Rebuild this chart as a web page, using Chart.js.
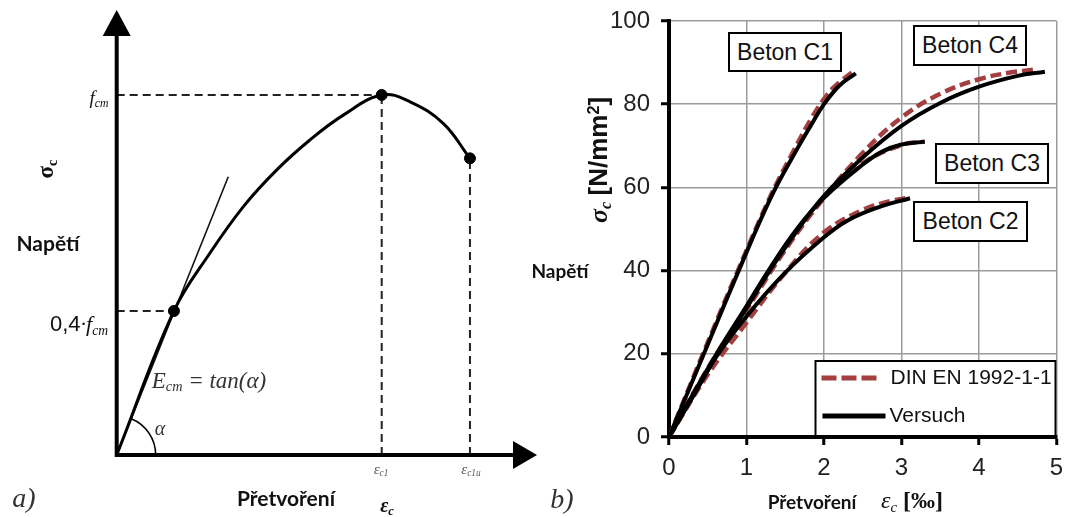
<!DOCTYPE html>
<html>
<head>
<meta charset="utf-8">
<script src="https://cdn.jsdelivr.net/npm/chart.js@4.4.0/dist/chart.umd.min.js"></script>
<style>
  html, body { margin: 0; padding: 0; background: #fff; }
  #wrap { position: relative; width: 1065px; height: 517px; overflow: hidden; }
  canvas { position: absolute; top: 0; }
  #leftChart { left: 0; }
  #rightChart { left: 530px; }
  .lbl { position: absolute; transform: translate(-50%, -50%); white-space: nowrap; line-height: 1; color: #111; }
  .cal { font-family: Lato, sans-serif; font-weight: bold; }
  .tim { font-family: "Liberation Serif", serif; font-style: italic; }
  .ari { font-family: "Liberation Sans", Arial, sans-serif; }
  .rot { transform: translate(-50%, -50%) rotate(-90deg); }
  sub { font-size: 0.62em; vertical-align: -0.28em; line-height: 0; }
  sup { font-size: 0.62em; vertical-align: 0.45em; line-height: 0; }
  .box { position: absolute; border: 2px solid #000; background: #fff; box-sizing: border-box;
         font-family: "Liberation Sans", Arial, sans-serif; font-size: 23px; color: #111;
         display: flex; align-items: center; justify-content: center; }
</style>
</head>
<body>
<div id="wrap">
  <canvas id="leftChart" width="545" height="517"></canvas>
  <canvas id="rightChart" width="535" height="517"></canvas>

  <!-- a) labels -->
  <div class="lbl cal" style="left:48px;top:242px;font-size:21px">Napětí</div>
  <div class="lbl cal" style="left:286px;top:497px;font-size:21px">Přetvoření</div>
  <div class="lbl tim" style="left:24px;top:498px;font-size:28px;color:#333">a)</div>
  <div class="lbl rot" style="left:46px;top:169px;font:bold 23px 'Liberation Serif',serif">σ<sub>c</sub></div>
  <div class="lbl tim" style="left:99px;top:97px;font-size:19px">f<sub>cm</sub></div>
  <div class="lbl" style="left:79px;top:324px;font-size:22px"><span class="ari">0,4</span><span class="tim">·f<sub>cm</sub></span></div>
  <div class="lbl tim" style="left:209px;top:380px;font-size:23px;color:#333">E<sub>cm</sub> = tan(α)</div>
  <div class="lbl tim" style="left:160px;top:428px;font-size:20px;color:#333">α</div>
  <div class="lbl tim" style="left:381px;top:469px;font-size:15px;color:#555">ε<sub>c1</sub></div>
  <div class="lbl tim" style="left:471px;top:469px;font-size:15px;color:#555">ε<sub>c1u</sub></div>
  <div class="lbl" style="left:387px;top:505px;font:bold italic 20px 'Liberation Serif',serif">ε<sub>c</sub></div>

  <!-- b) labels -->
  <div class="lbl cal" style="left:560px;top:270px;font-size:19px">Napětí</div>
  <div class="lbl tim" style="left:562px;top:499px;font-size:28px;color:#333">b)</div>
  <div class="lbl cal" style="left:812px;top:501px;font-size:19px">Přetvoření</div>
  <div class="lbl" style="left:912px;top:500px;font-size:24px"><span class="tim">ε<sub>c</sub></span> <b style="font-family:'Liberation Serif',serif">[‰]</b></div>
  <div class="lbl rot" style="left:598px;top:160px;font-size:26px"><span class="tim" style="font-weight:bold">σ<sub>c</sub></span> <b class="ari">[N/mm<sup>2</sup>]</b></div>

  <div class="box" style="left:728px;top:32px;width:114px;height:40px">Beton C1</div>
  <div class="box" style="left:913px;top:25px;width:114px;height:41px">Beton C4</div>
  <div class="box" style="left:935px;top:143px;width:114px;height:41px">Beton C3</div>
  <div class="box" style="left:913px;top:201px;width:115px;height:41px">Beton C2</div>
</div>

<script>
// ---- a) schematic: strain in units of eps_c1, stress in units of f_cm
const schemeX = [0, 0.216, 0.352, 0.478, 0.604, 0.729, 0.855, 1, 1.107, 1.232, 1.333];
const schemeY = [0, 0.4, 0.561, 0.690, 0.792, 0.875, 0.944, 1, 0.981, 0.921, 0.824];
const markX = [0.216, 1, 1.333];
const markY = [0.4, 1, 0.824];
const tangentX = [0, 0.421];
const tangentY = [0, 0.773];
const axisMaxX = 1.586;
const axisMaxY = 1.236;

// ---- b) stress-strain curves, strain [‰], stress [N/mm²]
const seriesLabels = ['DIN EN 1992-1-1', 'Versuch'];
const xTicks = [0, 1, 2, 3, 4, 5];
const yTicks = [0, 20, 40, 60, 80, 100];

const c1ExpX = [0, 0.45, 0.9, 1.3, 1.6, 1.85, 2.0, 2.2, 2.41];
const c1ExpY = [0, 20, 40, 57, 67.5, 75.5, 80, 84.5, 87.4];
const c1DinX = [0, 0.45, 0.9, 1.3, 1.6, 1.85, 2.05, 2.2, 2.36];
const c1DinY = [0, 20.5, 40.5, 57.5, 68.5, 77, 82.5, 85.3, 87.6];

const c2ExpX = [0, 0.3, 0.6, 1.0, 1.5, 2.0, 2.3, 2.7, 3.11];
const c2ExpY = [0, 9.5, 19, 29, 39.5, 48, 52, 55.2, 57.4];
const c2DinX = [0, 0.5, 1.0, 1.5, 2.0, 2.5, 2.85, 3.05];
const c2DinY = [0, 15, 27.5, 39.5, 49.2, 54.6, 56.7, 57.4];

const c3ExpX = [0, 0.3, 0.63, 1.0, 1.3, 1.65, 2.0, 2.5, 2.75, 3.0, 3.3];
const c3ExpY = [0, 10, 20.5, 31.5, 40.5, 50, 57.5, 65.5, 68.6, 70.3, 71];
const c3DinX = [0, 0.5, 1.0, 1.5, 2.0, 2.5, 3.0, 3.3];
const c3DinY = [0, 16.5, 31, 45.5, 57.5, 65.8, 70.2, 71];

const c4ExpX = [0, 0.3, 0.63, 1.0, 1.3, 1.65, 2.0, 2.5, 3.0, 3.5, 4.0, 4.5, 4.85];
const c4ExpY = [0, 9.5, 20, 31, 40, 49.5, 58, 67.2, 74.8, 80.3, 84.2, 86.8, 87.8];
const c4DinX = [0, 0.5, 1.0, 1.5, 2.0, 2.5, 3.0, 3.5, 4.0, 4.4, 4.7];
const c4DinY = [0, 16, 30.5, 45, 57.5, 68.3, 76.8, 82.5, 86, 87.6, 88.3];

const dinColor = '#a33f3f';

const pts = (xs, ys) => xs.map((x, i) => ({ x: x, y: ys[i] }));

// ---------- left: schematic ----------
const guide = (data) => ({
  data: data, showLine: true, borderColor: '#222', borderWidth: 2,
  borderDash: [8, 5], pointRadius: 0, clip: false
});

const schemeDecor = {
  id: 'schemeDecor',
  afterDatasetsDraw(chart) {
    const { ctx, scales: { x, y } } = chart;
    const ox = x.getPixelForValue(0), oy = y.getPixelForValue(0);
    const tipX = x.getPixelForValue(axisMaxX), tipY = y.getPixelForValue(axisMaxY);
    ctx.save();
    // axes
    ctx.strokeStyle = '#000';
    ctx.lineWidth = 4;
    ctx.beginPath();
    ctx.moveTo(ox, tipY + 20); ctx.lineTo(ox, oy); ctx.lineTo(tipX - 20, oy);
    ctx.stroke();
    // arrow heads
    ctx.fillStyle = '#000';
    ctx.beginPath();
    ctx.moveTo(ox, tipY); ctx.lineTo(ox - 14, tipY + 26); ctx.lineTo(ox + 14, tipY + 26);
    ctx.closePath(); ctx.fill();
    ctx.beginPath();
    ctx.moveTo(tipX, oy); ctx.lineTo(tipX - 24, oy - 14); ctx.lineTo(tipX - 24, oy + 14);
    ctx.closePath(); ctx.fill();
    // angle alpha
    const ang = Math.atan2(y.getPixelForValue(tangentY[1]) - oy, x.getPixelForValue(tangentX[1]) - ox);
    ctx.lineWidth = 1.6;
    ctx.beginPath();
    ctx.arc(ox, oy, 39, ang, 0);
    ctx.stroke();
    ctx.restore();
  }
};

new Chart(document.getElementById('leftChart'), {
  type: 'scatter',
  data: {
    datasets: [
      { data: pts(markX, markY), pointRadius: 5.5, pointBackgroundColor: '#000', pointBorderColor: '#000', showLine: false, clip: false },
      { data: pts(schemeX, schemeY), showLine: true, borderColor: '#000', borderWidth: 3,
        tension: 0.4, pointRadius: 0, clip: false },
      { data: pts(tangentX, tangentY), showLine: true, borderColor: '#111', borderWidth: 1.6, pointRadius: 0, clip: false },
      guide([{ x: 0, y: schemeY[7] }, { x: schemeX[7], y: schemeY[7] }]),
      guide([{ x: schemeX[7], y: 0 }, { x: schemeX[7], y: schemeY[7] }]),
      guide([{ x: 0, y: markY[0] }, { x: markX[0], y: markY[0] }]),
      guide([{ x: markX[2], y: 0 }, { x: markX[2], y: markY[2] }])
    ]
  },
  options: {
    responsive: false,
    animation: false,
    layout: { padding: { left: 116.7, right: 8, top: 10, bottom: 62 }, autoPadding: false },
    plugins: { legend: { display: false }, tooltip: { enabled: false } },
    scales: {
      x: { type: 'linear', display: false, min: 0, max: axisMaxX },
      y: { type: 'linear', display: false, min: 0, max: axisMaxY }
    }
  },
  plugins: [schemeDecor]
});

// ---------- right: measured vs. code curves ----------
const expLine = (xs, ys) => ({
  label: seriesLabels[1], data: pts(xs, ys), showLine: true, borderColor: '#000',
  borderWidth: 4, pointRadius: 0, tension: 0.4, order: 0
});
const dinLine = (xs, ys) => ({
  label: seriesLabels[0], data: pts(xs, ys), showLine: true, borderColor: dinColor,
  borderWidth: 4.5, borderDash: [11, 5], pointRadius: 0, tension: 0.4, order: 1
});

const legendBox = {
  id: 'legendBox',
  afterDatasetsDraw(chart) {
    const { ctx, chartArea: a } = chart;
    const w = 242, left = a.right - w, top = a.bottom - 77, h = 75;
    ctx.save();
    ctx.fillStyle = '#fff';
    ctx.fillRect(left, top, w, h);
    ctx.strokeStyle = '#000';
    ctx.lineWidth = 2;
    ctx.strokeRect(left + 1, top + 1, w - 2, h);
    const rowY = [top + 18, top + 56];
    ctx.lineWidth = 5;
    ctx.strokeStyle = dinColor;
    ctx.setLineDash([15, 5]);
    ctx.beginPath(); ctx.moveTo(left + 7, rowY[0]); ctx.lineTo(left + 63, rowY[0]); ctx.stroke();
    ctx.setLineDash([]);
    ctx.strokeStyle = '#000';
    ctx.beginPath(); ctx.moveTo(left + 8, rowY[1]); ctx.lineTo(left + 71, rowY[1]); ctx.stroke();
    ctx.fillStyle = '#111';
    ctx.font = '21px "Liberation Sans", Arial, sans-serif';
    ctx.textBaseline = 'middle';
    ctx.fillText(seriesLabels[0], left + 76, rowY[0]);
    ctx.fillText(seriesLabels[1], left + 75, rowY[1]);
    ctx.restore();
  }
};

const tickFont = { family: '"Liberation Sans", Arial, sans-serif', size: 24 };

new Chart(document.getElementById('rightChart'), {
  type: 'scatter',
  data: {
    datasets: [
      dinLine(c1DinX, c1DinY), dinLine(c2DinX, c2DinY), dinLine(c3DinX, c3DinY), dinLine(c4DinX, c4DinY),
      expLine(c1ExpX, c1ExpY), expLine(c2ExpX, c2ExpY), expLine(c3ExpX, c3ExpY), expLine(c4ExpX, c4ExpY)
    ]
  },
  options: {
    responsive: false,
    animation: false,
    layout: { padding: { left: 0, right: 8.5, top: 21, bottom: 0 }, autoPadding: false },
    plugins: { legend: { display: false }, tooltip: { enabled: false } },
    scales: {
      x: {
        type: 'linear', min: xTicks[0], max: xTicks[xTicks.length - 1],
        afterBuildTicks: (s) => { s.ticks = xTicks.map(v => ({ value: v })); },
        ticks: { font: tickFont, color: '#222', padding: 9, maxRotation: 0 },
        grid: { color: '#9b9b9b', lineWidth: 1.5, tickColor: '#000', tickWidth: 3, tickLength: 8 },
        border: { color: '#000', width: 4 },
        afterFit: (s) => { s.height = 80; s.paddingLeft = 0; s.paddingRight = 0; }
      },
      y: {
        type: 'linear', min: yTicks[0], max: yTicks[yTicks.length - 1],
        afterBuildTicks: (s) => { s.ticks = yTicks.map(v => ({ value: v })); },
        ticks: { font: tickFont, color: '#222', padding: 11 },
        grid: { color: '#9b9b9b', lineWidth: 1.5, tickColor: '#000', tickWidth: 3, tickLength: 8 },
        border: { color: '#000', width: 4 },
        afterFit: (s) => { s.width = 139; s.paddingTop = 0; s.paddingBottom = 0; }
      }
    }
  },
  plugins: [legendBox]
});
</script>
</body>
</html>
